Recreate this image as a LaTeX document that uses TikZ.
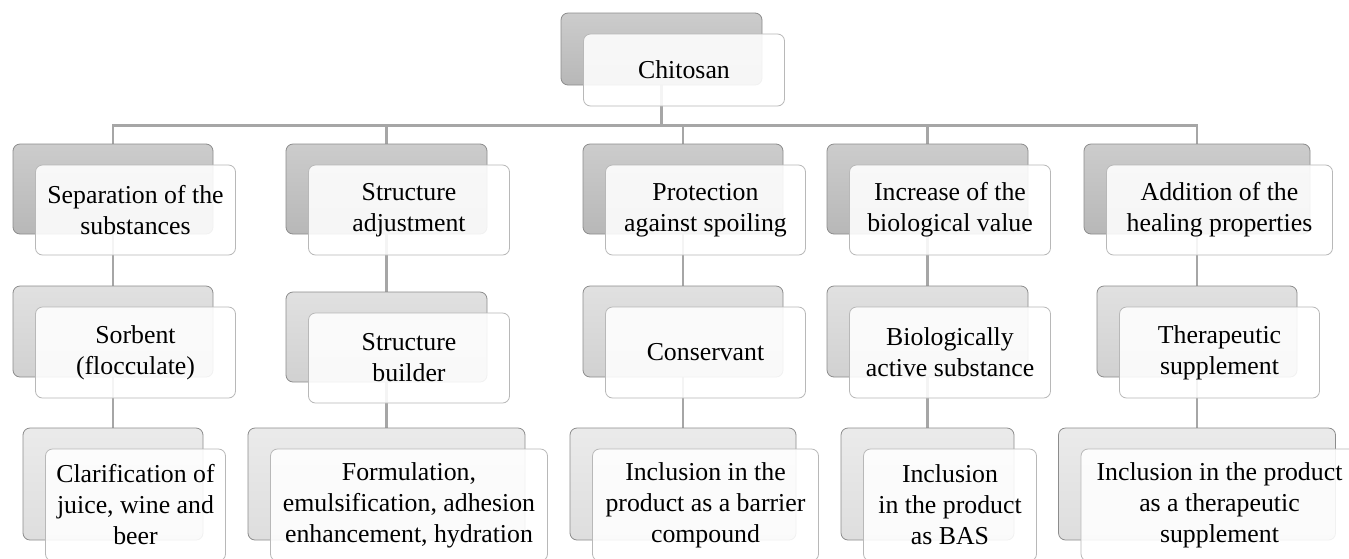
\documentclass[tikz,border=0pt]{standalone}
\usepackage{fontspec}
\setmainfont{Liberation Serif}
\usetikzlibrary{backgrounds}

\newcommand{\cardpair}[6]{%
  \node[back,#5,minimum width=#4pt,minimum height=#3pt] (b#1) at (#2) {};
  \node[front,minimum width=#4pt,minimum height=#3pt] (f#1) at ([shift={(22.5,21)}]b#1.center) {#6};}

\begin{document}
\begin{tikzpicture}[x=1pt,y=-1pt,
  back/.style={draw=black!45,rounded corners=7pt,inner sep=0pt,line width=0.8pt},
  shadeA/.style={top color=black!20,bottom color=black!28},
  shadeB/.style={top color=black!12,bottom color=black!18},
  shadeC/.style={top color=black!8,bottom color=black!13},
  front/.style={draw=black!28,fill=white,fill opacity=0.88,text opacity=1,rounded corners=7pt,
    inner sep=0pt,line width=0.8pt,align=center,font=\fontsize{25.8}{31}\selectfont},
  link/.style={draw=black!35,line width=2.6pt}]
\useasboundingbox (0,0) rectangle (1349,558);

\cardpair{0}{661.5,49}{72}{201}{shadeA}{Chitosan}

\cardpair{11}{113,189}{90}{200}{shadeA}{Separation of the\\substances}
\cardpair{12}{386.5,189}{90}{201}{shadeA}{Structure\\adjustment}
\cardpair{13}{683,189}{90}{200}{shadeA}{Protection\\against spoiling}
\cardpair{14}{927.5,189}{90}{201}{shadeA}{Increase of the\\biological value}
\cardpair{15}{1197,189}{90}{226}{shadeA}{Addition of the\\healing properties}

\cardpair{21}{113,331.5}{91}{200}{shadeB}{Sorbent\\(flocculate)}
\cardpair{22}{386.5,337}{90}{201}{shadeB}{Structure\\builder}
\cardpair{23}{683,331.5}{91}{200}{shadeB}{Conservant}
\cardpair{24}{927.5,331.5}{91}{201}{shadeB}{Biologically\\active substance}
\cardpair{25}{1197,331.5}{91}{200}{shadeB}{Therapeutic\\supplement}

\cardpair{31}{113,484}{112}{180}{shadeC}{Clarification of\\juice, wine and\\beer}
\cardpair{32}{386.5,484}{112}{277}{shadeC}{Formulation,\\emulsification, adhesion\\enhancement, hydration}
\cardpair{33}{683,484}{112}{226}{shadeC}{Inclusion in the\\product as a barrier\\compound}
\cardpair{34}{927.5,484}{112}{173}{shadeC}{Inclusion\\in the product\\as BAS}
\cardpair{35}{1197,484}{112}{277}{shadeC}{Inclusion in the product\\as a therapeutic\\supplement}

\begin{scope}[on background layer]
\fill[white] (0,0) rectangle (1349,558);
\foreach \c in {1,...,5}{
  \draw[link] (b0.south) -- ++(0,40) -| (b1\c.north);
  \draw[link] (b1\c.south) -- (b2\c.north);
  \draw[link] (b2\c.south) -- (b3\c.north);
}
\end{scope}
\end{tikzpicture}
\end{document}
